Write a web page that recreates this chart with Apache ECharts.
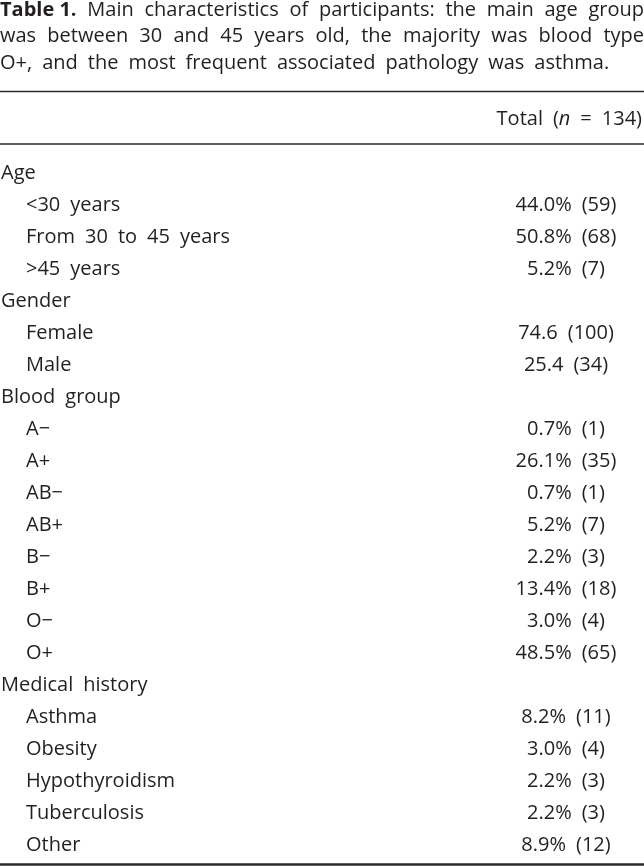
<!DOCTYPE html>
<html><head><meta charset="utf-8">
<script src="https://cdn.jsdelivr.net/npm/echarts@6/dist/echarts.min.js"></script>
<style>html,body{margin:0;padding:0;background:#fff}#c{width:644px;height:866px}</style>
</head><body><div id="c"></div>
<script>
// ---- data ----
const titleBold = 'Table 1.';
const titleLines = [
  'Main characteristics of participants: the main age group',
  'was between 30 and 45 years old, the majority was blood type',
  'O+, and the most frequent associated pathology was asthma.'
];
const columnHeader = 'Total';
const totalN = 134;
const groups = ['Age', 'Gender', 'Blood group', 'Medical history'];
const groupPctSign = [true, false, true, true];
const ageLabels = ['<30 years', 'From 30 to 45 years', '>45 years'];
const agePct = [44.0, 50.8, 5.2];
const ageN = [59, 68, 7];
const genderLabels = ['Female', 'Male'];
const genderPct = [74.6, 25.4];
const genderN = [100, 34];
const bloodLabels = ['A\u2212', 'A+', 'AB\u2212', 'AB+', 'B\u2212', 'B+', 'O\u2212', 'O+'];
const bloodPct = [0.7, 26.1, 0.7, 5.2, 2.2, 13.4, 3.0, 48.5];
const bloodN = [1, 35, 1, 7, 3, 18, 4, 65];
const medLabels = ['Asthma', 'Obesity', 'Hypothyroidism', 'Tuberculosis', 'Other'];
const medPct = [8.2, 3.0, 2.2, 2.2, 8.9];
const medN = [11, 4, 3, 3, 12];

// ---- styling ----
const FONT = 'Open Sans';
const INK = '#231f20';
const BODY_SIZE = 20;
const TITLE_SIZE = 20;
const W = 644;
const SP = '\u2002'; // wide word spacing as in the reference typeface
const wide = s => s.replace(/ /g, SP);

const groupItems = [
  [ageLabels, agePct, ageN],
  [genderLabels, genderPct, genderN],
  [bloodLabels, bloodPct, bloodN],
  [medLabels, medPct, medN]
];
const rows = [];
groups.forEach((g, gi) => {
  rows.push({ label: g, header: true });
  const [labs, pct, n] = groupItems[gi];
  labs.forEach((l, k) => {
    rows.push({ label: l, header: false,
      value: pct[k].toFixed(1) + (groupPctSign[gi] ? '%' : '') + ' (' + n[k] + ')' });
  });
});

// ---- title (justified) ----
const ctx = document.createElement('canvas').getContext('2d');
function measure(t, bold) {
  ctx.font = (bold ? 'bold ' : '') + TITLE_SIZE + 'px "' + FONT + '"';
  return ctx.measureText(t).width;
}
const graphics = [];
const baselines = [17, 43, 70];
titleLines.forEach((line, li) => {
  const toks = line.split(' ').map(t => ({ t, bold: false }));
  if (li === 0) toks.unshift({ t: titleBold, bold: true });
  const widths = toks.map(o => measure(o.t, o.bold));
  const total = widths.reduce((a, b) => a + b, 0);
  const last = li === titleLines.length - 1;
  let gap = last ? measure(SP, false) : (W - total) / (toks.length - 1);
  let sx = 1;
  if (gap < 3) { gap = 3; sx = (W - 3 * (toks.length - 1)) / total; }
  let x = 0;
  toks.forEach((o, k) => {
    graphics.push({ type: 'text', x: x, y: baselines[li] - 7, scaleX: sx, silent: true,
      style: { text: o.t, fill: INK, fontFamily: FONT, fontSize: TITLE_SIZE,
        fontWeight: o.bold ? 'bold' : 'normal', align: 'left', verticalAlign: 'middle' } });
    x += widths[k] * sx + gap;
  });
});
// rules
[[91.5, 1.4], [144, 1.4], [864.5, 2.6]].forEach(([y, w]) => {
  graphics.push({ type: 'line', silent: true,
    shape: { x1: 0, y1: y, x2: W, y2: y }, style: { stroke: '#2b2b2b', lineWidth: w } });
});
// column header
graphics.push({ type: 'text', x: 642, y: 119, silent: true,
  style: { text: wide(columnHeader + ' (') + '{i|n}' + wide(' = ' + totalN + ')'), fill: INK, fontFamily: FONT,
    fontSize: BODY_SIZE, align: 'right', verticalAlign: 'middle',
    rich: { i: { fontStyle: 'italic', fontFamily: FONT, fontSize: BODY_SIZE, fill: INK } } } });

const chart = echarts.init(document.getElementById('c'), null, { renderer: 'canvas' });
chart.setOption({
  animation: false,
  backgroundColor: '#fff',
  grid: { left: 0, right: 0, top: 157, height: 704 },
  xAxis: { type: 'value', min: 0, max: W, show: false },
  yAxis: { type: 'category', inverse: true, data: rows.map(r => r.label), show: false },
  graphic: graphics,
  series: [{
    type: 'custom',
    data: rows.map((r, i) => [0, i]),
    renderItem: function (params, api) {
      const i = api.value(1);
      const y = api.coord([0, i])[1];
      const r = rows[i];
      const children = [{ type: 'text', x: r.header ? 1 : 26, y: y,
        style: { text: wide(r.label), fill: INK, fontFamily: FONT, fontSize: BODY_SIZE,
          align: 'left', verticalAlign: 'middle' } }];
      if (!r.header) children.push({ type: 'text', x: 566, y: y,
        style: { text: wide(r.value), fill: INK, fontFamily: FONT, fontSize: BODY_SIZE,
          align: 'center', verticalAlign: 'middle' } });
      return { type: 'group', children: children };
    }
  }]
});
</script></body></html>
